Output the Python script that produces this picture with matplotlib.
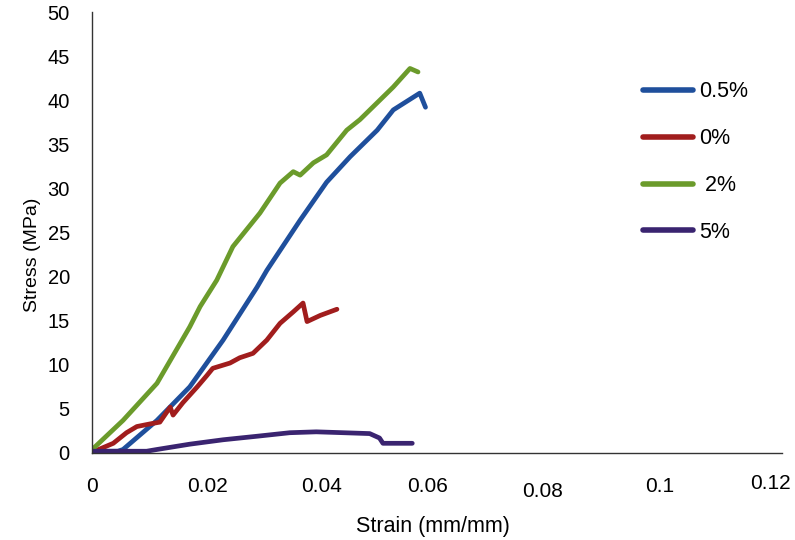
import matplotlib
matplotlib.use("Agg")
import matplotlib.pyplot as plt
from matplotlib.transforms import ScaledTranslation

plt.rcParams['font.family'] = ['Liberation Sans', 'DejaVu Sans']

# Data (strain mm/mm, stress MPa)
green_x = [0.0002, 0.0054, 0.0113, 0.017, 0.0188, 0.0217, 0.0245, 0.0292, 0.0327, 0.035,
           0.0362, 0.0385, 0.0408, 0.0443, 0.0466, 0.0524, 0.0553, 0.0567]
green_y = [0.5, 3.7, 7.9, 14.3, 16.6, 19.6, 23.4, 27.2, 30.6, 31.9,
           31.5, 32.9, 33.8, 36.6, 37.8, 41.5, 43.6, 43.2]

blue_x = [0.0, 0.0045, 0.0054, 0.0113, 0.017, 0.0228, 0.0287, 0.0304, 0.0362, 0.0408,
          0.0449, 0.0496, 0.0524, 0.057, 0.058]
blue_y = [0.2, 0.2, 0.4, 3.7, 7.5, 12.8, 18.8, 20.7, 26.4, 30.7,
          33.6, 36.6, 38.9, 40.8, 39.2]

red_x = [0.0, 0.0008, 0.0037, 0.006, 0.0078, 0.0101, 0.0118, 0.0136, 0.0141, 0.0158,
         0.0183, 0.020, 0.021, 0.024, 0.0257, 0.028, 0.0304, 0.0327, 0.035, 0.0367,
         0.0374, 0.0397, 0.0426]
red_y = [0.2, 0.3, 1.1, 2.3, 3.0, 3.3, 3.5, 5.2, 4.3, 5.7,
         7.5, 8.8, 9.6, 10.2, 10.8, 11.3, 12.8, 14.7, 16.0, 17.0,
         14.9, 15.6, 16.3]

purple_x = [0.0, 0.0095, 0.0113, 0.017, 0.0228, 0.0287, 0.0344, 0.039, 0.0437, 0.0483,
            0.050, 0.0506, 0.0557]
purple_y = [0.2, 0.2, 0.4, 1.0, 1.5, 1.9, 2.3, 2.4, 2.3, 2.2,
            1.7, 1.1, 1.1]

series_labels = ['0.5%', '0%', ' 2%', '5%']
colors = ['#1f4f9c', '#a11d1d', '#6b9b2b', '#3a2470']

x_ticks = [0, 0.02, 0.04, 0.06, 0.08, 0.1, 0.12]
x_tick_labels = ['0', '0.02', '0.04', '0.06', '0.08', '0.1', '0.12']
x_label_shift_px = [(0, 0), (0, 0), (0, 0), (-9, 0), (-9, -5), (-7, 0), (-12, 3)]
y_ticks = [0, 5, 10, 15, 20, 25, 30, 35, 40, 45, 50]

fig = plt.figure(figsize=(7.95, 5.4), dpi=100)
ax = fig.add_axes([92/795, 87/540, 690/795, 441/540])

lw = 3.4
l_blue, = ax.plot(blue_x, blue_y, color=colors[0], lw=lw, solid_capstyle='round', solid_joinstyle='round')
l_red, = ax.plot(red_x, red_y, color=colors[1], lw=lw, solid_capstyle='round', solid_joinstyle='round')
l_green, = ax.plot(green_x, green_y, color=colors[2], lw=lw, solid_capstyle='round', solid_joinstyle='round')
l_purple, = ax.plot(purple_x, purple_y, color=colors[3], lw=lw, solid_capstyle='round', solid_joinstyle='round')

ax.set_xlim(0, 0.12)
ax.set_ylim(0, 50)
ax.set_xticks(x_ticks)
ax.set_xticklabels(x_tick_labels)
ax.set_yticks(y_ticks)
ax.tick_params(length=0, labelsize=15, colors='black')
ax.tick_params(axis='y', labelsize=14.5)
ax.tick_params(axis='x', pad=17)
ax.tick_params(axis='y', pad=16)

for s in ['top', 'right']:
    ax.spines[s].set_visible(False)
for s in ['left', 'bottom']:
    ax.spines[s].set_color('#333333')
    ax.spines[s].set_linewidth(1.0)

ax.set_xlabel('Strain (mm/mm)', fontsize=15.5)
ax.xaxis.set_label_coords(0.494, -0.142)
ax.set_ylabel('Stress (MPa)', fontsize=14)
ax.yaxis.set_label_coords(-0.074, 0.45)

leg = fig.legend([l_blue, l_red, l_green, l_purple], series_labels,
                 loc='upper left', bbox_to_anchor=(624/795, 1 - 62/540),
                 frameon=False, fontsize=15.5, handlelength=2.3, handletextpad=0.3,
                 labelspacing=1.2)
for h in leg.get_lines():
    h.set_linewidth(4)

fig.canvas.draw()
for lab, (dx, dy) in zip(ax.get_xticklabels(), x_label_shift_px):
    lab.set_transform(lab.get_transform() + ScaledTranslation(dx / 100, dy / 100, fig.dpi_scale_trans))

fig.savefig('out.png', dpi=100)
